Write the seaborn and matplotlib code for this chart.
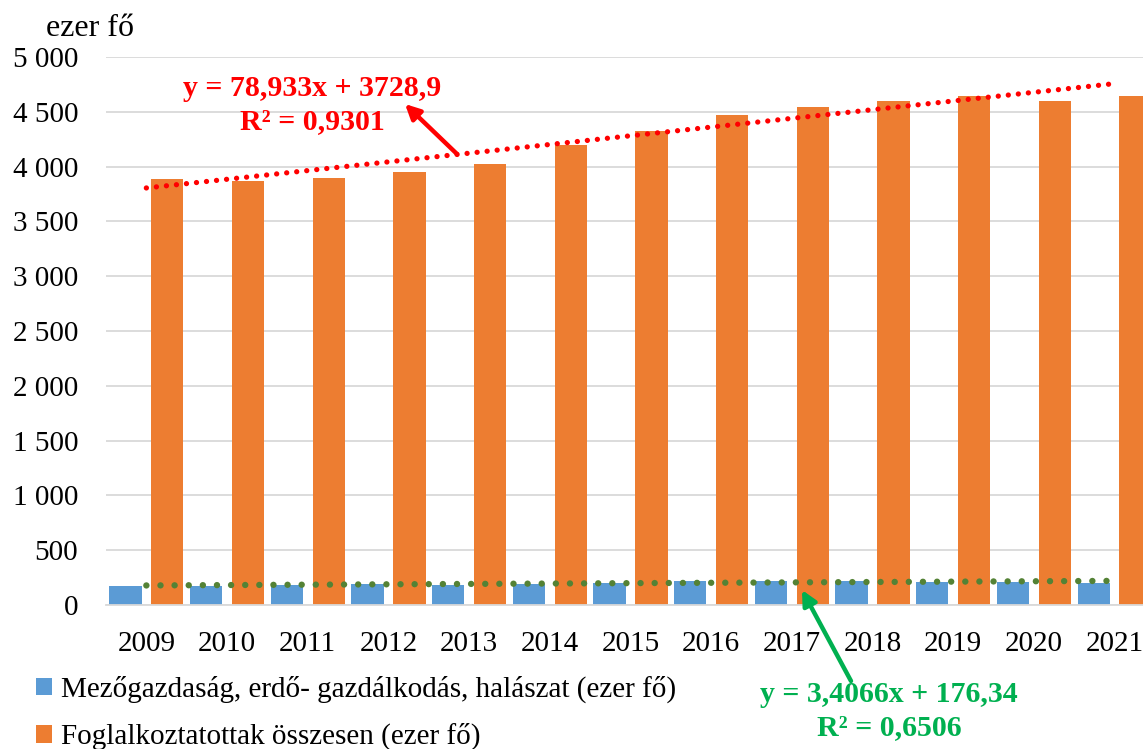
import numpy as np
import pandas as pd
import matplotlib
matplotlib.use("Agg")
import matplotlib.pyplot as plt
from matplotlib.patches import Patch
from matplotlib.ticker import FuncFormatter
import seaborn as sns

years = ["2009", "2010", "2011", "2012", "2013", "2014", "2015",
         "2016", "2017", "2018", "2019", "2020", "2021"]
agri = [176, 175, 184, 195, 187, 188, 201, 220, 221, 215, 210, 214, 205]
total = [3887, 3866, 3897, 3951, 4027, 4201, 4322, 4472, 4548, 4603, 4640, 4603, 4640]
series_names = ["Mezőgazdaság, erdő- gazdálkodás, halászat (ezer fő)",
                "Foglalkoztatottak összesen (ezer fő)"]
y_unit = "ezer fő"
red_eq = ["y = 78,933x + 3728,9", "R² = 0,9301"]
green_eq = ["y = 3,4066x + 176,34", "R² = 0,6506"]

BLUE = "#5B9BD5"
ORANGE = "#ED7D31"
RED = "#FF0000"
GREEN_TXT = "#00B050"
GREEN_DOT = "#548235"

sns.set_theme(style="white")
plt.rcParams['font.family'] = ['Liberation Serif', 'DejaVu Serif']
plt.rcParams['text.color'] = 'black'

df = pd.DataFrame({
    "year": years * 2,
    "value": agri + total,
    "series": [series_names[0]] * len(years) + [series_names[1]] * len(years),
})

W, H = 1143, 749
fig = plt.figure(figsize=(W / 100, H / 100), dpi=100)
ax = fig.add_axes([106 / W, 1 - 605 / H, (1155 - 106) / W, (605 - 57) / H])

sns.barplot(data=df, x="year", y="value", hue="series", order=years,
            hue_order=series_names, palette=[BLUE, ORANGE], saturation=1,
            width=1.04, gap=0.23, linewidth=0, ax=ax, legend=False)

pos = np.arange(len(years))
sns.regplot(x=pos, y=np.array(total), scatter=False, ci=None, truncate=True, ax=ax,
            line_kws=dict(color=RED, lw=3.8, linestyle=(0, (0.01, 1.9)),
                          dash_capstyle="round"))
sns.regplot(x=pos, y=np.array(agri), scatter=False, ci=None, truncate=True, ax=ax,
            line_kws=dict(color=GREEN_DOT, lw=4.6, linestyle=(0, (0.01, 2.2)),
                          dash_capstyle="round"))

ax.set_xlim(-0.5, len(years) - 0.5)
ax.set_ylim(0, 5000)
ax.set_yticks(np.arange(0, 5001, 500))
ax.yaxis.set_major_formatter(FuncFormatter(lambda v, p: f"{int(v):,}".replace(",", " ")))
ax.grid(axis="y", color="#D9D9D9", lw=1.3)
ax.set_axisbelow(True)
for s in ["top", "right", "left"]:
    ax.spines[s].set_visible(False)
ax.spines["bottom"].set_color("#D9D9D9")
ax.spines["bottom"].set_linewidth(1.3)
ax.set_xlabel("")
ax.set_ylabel("")
ax.tick_params(axis="y", length=0, pad=20, labelsize=21, labelcolor="black")
ax.tick_params(axis="x", length=0, pad=19, labelsize=21, labelcolor="black")

fig.text(90 / W, 1 - 28 / H, y_unit, ha="center", va="center", fontsize=23, color="black")

# trendline equations
eq_fs = 21.5
fig.text(312 / W, 1 - 88 / H, red_eq[0], ha="center", va="center",
         fontsize=eq_fs, fontweight="bold", color=RED)
fig.text(312 / W, 1 - 122 / H, red_eq[1], ha="center", va="center",
         fontsize=eq_fs, fontweight="bold", color=RED)
fig.text(889 / W, 1 - 694 / H, green_eq[0], ha="center", va="center",
         fontsize=eq_fs, fontweight="bold", color=GREEN_TXT)
fig.text(889 / W, 1 - 728 / H, green_eq[1], ha="center", va="center",
         fontsize=eq_fs, fontweight="bold", color=GREEN_TXT)

ax.annotate("", xy=(405 / W, 1 - 104 / H), xytext=(457 / W, 1 - 154 / H),
            xycoords="figure fraction", textcoords="figure fraction",
            arrowprops=dict(arrowstyle="-|>", color=RED, lw=3.2, mutation_scale=22,
                            shrinkA=0, shrinkB=0))
ax.annotate("", xy=(802 / W, 1 - 590 / H), xytext=(851 / W, 1 - 681 / H),
            xycoords="figure fraction", textcoords="figure fraction",
            arrowprops=dict(arrowstyle="-|>", color=GREEN_TXT, lw=3.2, mutation_scale=22,
                            shrinkA=0, shrinkB=0))

handles = [Patch(facecolor=BLUE, edgecolor="none"), Patch(facecolor=ORANGE, edgecolor="none")]
leg = fig.legend(handles, series_names, loc="upper left", bbox_to_anchor=(36 / W, 1 - 676 / H),
                 frameon=False, fontsize=21, handlelength=0.55, handleheight=0.55,
                 handletextpad=0.3, labelspacing=0.68, borderaxespad=0, borderpad=0)
for t in leg.get_texts():
    t.set_color("black")

fig.savefig("out.png", dpi=100)
